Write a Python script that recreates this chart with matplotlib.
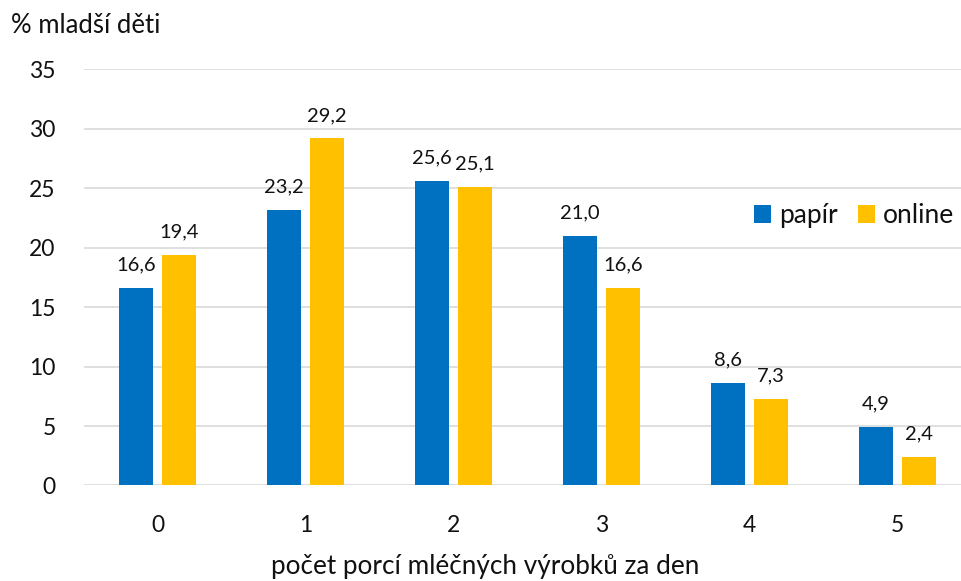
import numpy as np
import matplotlib
matplotlib.use("Agg")
import matplotlib.pyplot as plt

plt.rcParams['font.family'] = ['Lato', 'DejaVu Sans']

# data
categories = ["0", "1", "2", "3", "4", "5"]
papir = [16.6, 23.2, 25.6, 21.0, 8.6, 4.9]
online = [19.4, 29.2, 25.1, 16.6, 7.3, 2.4]
series_names = ["papír", "online"]
y_ticks = [0, 5, 10, 15, 20, 25, 30, 35]

BLUE = '#0070C0'
YELLOW = '#FFC000'
GRID = '#D9D9D9'
TXT = '#111111'

fig = plt.figure(figsize=(9.61, 5.81), dpi=100)
ax = fig.add_axes([0.0869, 0.1644, 0.924, 0.716])

x = np.arange(len(categories))
w = 0.23
off = 0.145
b1 = ax.bar(x - off, papir, w, color=BLUE, label=series_names[0], zorder=3)
b2 = ax.bar(x + off, online, w, color=YELLOW, label=series_names[1], zorder=3)

# value labels with decimal comma
for bars, vals in ((b1, papir), (b2, online)):
    for rect, v in zip(bars, vals):
        ax.annotate(f"{v:.1f}".replace('.', ','),
                    (rect.get_x() + rect.get_width() / 2, v),
                    xytext=(0, 12.6), textcoords='offset points',
                    ha='center', va='baseline', fontsize=14.5, color=TXT)

ax.set_xlim(-0.5, len(categories) - 0.5)
ax.set_ylim(0, 35)
ax.set_yticks(y_ticks)
ax.set_xticks(x)
ax.set_xticklabels(categories)
ax.tick_params(axis='both', length=0, labelsize=16.5, colors=TXT)
ax.tick_params(axis='x', pad=21)
ax.tick_params(axis='y', pad=20)
ax.yaxis.grid(True, color=GRID, lw=1.2, zorder=0)
ax.set_axisbelow(True)
for s in ax.spines.values():
    s.set_visible(False)

fig.text(485 / 961, 1 - 574 / 581, "počet porcí mléčných výrobků za den",
         ha='center', va='baseline', fontsize=18.8, color=TXT)
fig.text(11 / 961, 1 - 33 / 581, "% mladší děti",
         ha='left', va='baseline', fontsize=18.5, color=TXT)

fig.legend(loc='center right', bbox_to_anchor=(954 / 961, 1 - 215.5 / 581),
           ncol=2, frameon=False, fontsize=19, handlelength=0.65,
           handleheight=0.65, handletextpad=0.3, columnspacing=0.75,
           borderpad=0, borderaxespad=0, labelcolor=TXT)

fig.savefig('out.png', dpi=100)
